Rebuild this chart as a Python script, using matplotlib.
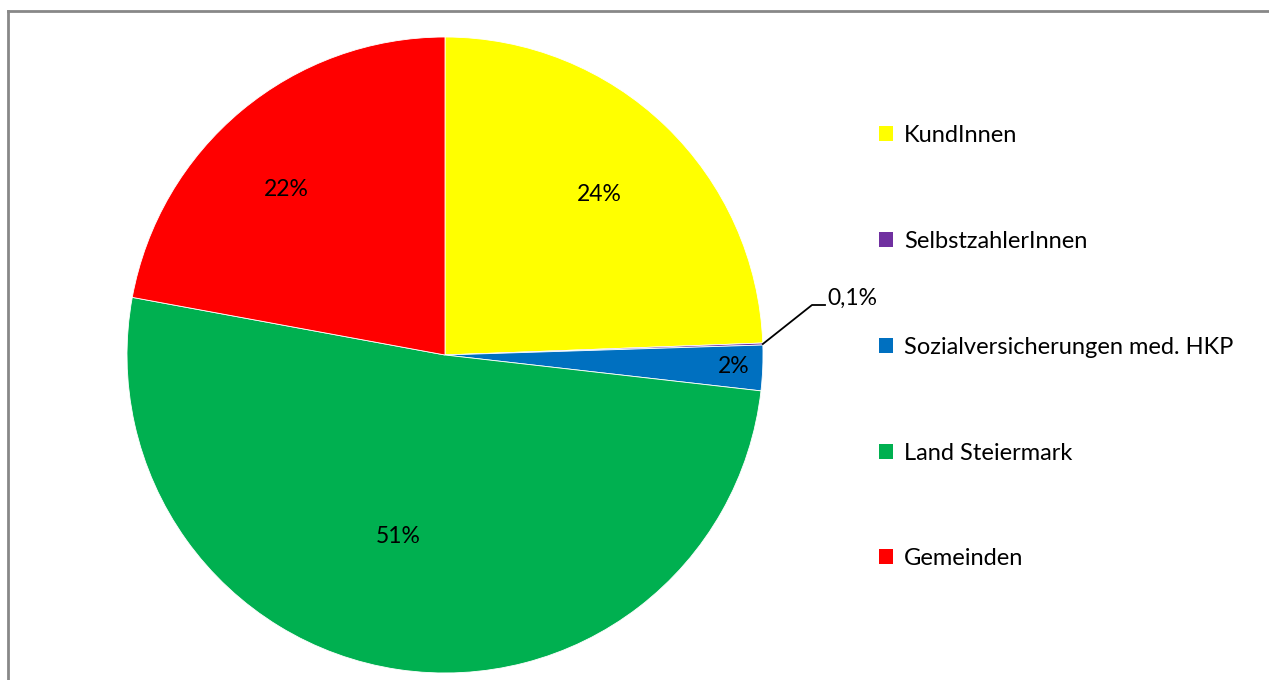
import matplotlib.pyplot as plt
import numpy as np
from matplotlib.patches import Patch

plt.rcParams['font.family'] = ['Lato', 'DejaVu Sans']

categories = ["KundInnen", "SelbstzahlerInnen", "Sozialversicherungen med. HKP",
              "Land Steiermark", "Gemeinden"]
values = [24.4, 0.1, 2.3, 51.1, 22.1]
pct_labels = ["24%", "0,1%", "2%", "51%", "22%"]
colors = ["#FFFF00", "#7030A0", "#0070C0", "#00B050", "#FF0000"]

W, H = 1269, 680
fig = plt.figure(figsize=(W / 100, H / 100), dpi=100)
ax = fig.add_axes([0, 0, 1, 1])

cx, cy, R = 445, H - 355, 318
wedges, _ = ax.pie(values, colors=colors, startangle=90, counterclock=False,
                   center=(cx, cy), radius=R, frame=True,
                   wedgeprops=dict(edgecolor='white', linewidth=0.6))
ax.set_xlim(0, W)
ax.set_ylim(0, H)
ax.set_aspect('equal')
ax.axis('off')

# label distance as fraction of radius, per slice
dist = [0.70, None, 0.91, 0.59, 0.72]
offs = [0, 0, 0, -6, 4]
for w, lab, d, o in zip(wedges, pct_labels, dist, offs):
    mid = np.deg2rad((w.theta1 + w.theta2) / 2 + o)
    if d is None:
        px, py = cx + R * np.cos(mid), cy + R * np.sin(mid)
        ax.plot([px, 812, 825], [py, H - 305, H - 305], color='black', lw=1.3)
        ax.text(827, H - 298, lab, fontsize=16.5, va='center', ha='left')
    else:
        ax.text(cx + d * R * np.cos(mid), cy + d * R * np.sin(mid), lab,
                fontsize=16.5, ha='center', va='center')

handles = [Patch(facecolor=c, edgecolor='none') for c in colors]
leg = fig.legend(handles, categories, loc='upper left',
                 bbox_to_anchor=(858 / W, 1 - 104 / H), frameon=False,
                 fontsize=17, labelspacing=3.59, handlelength=0.6,
                 handleheight=0.6, handletextpad=0.45)

# outer frame
fig.add_artist(plt.Line2D([8 / W, 8 / W], [0, 1 - 11 / H], color='#888888', lw=2))
fig.add_artist(plt.Line2D([8 / W, 1], [1 - 11 / H, 1 - 11 / H], color='#888888', lw=2))

fig.savefig('out.png', dpi=100)
